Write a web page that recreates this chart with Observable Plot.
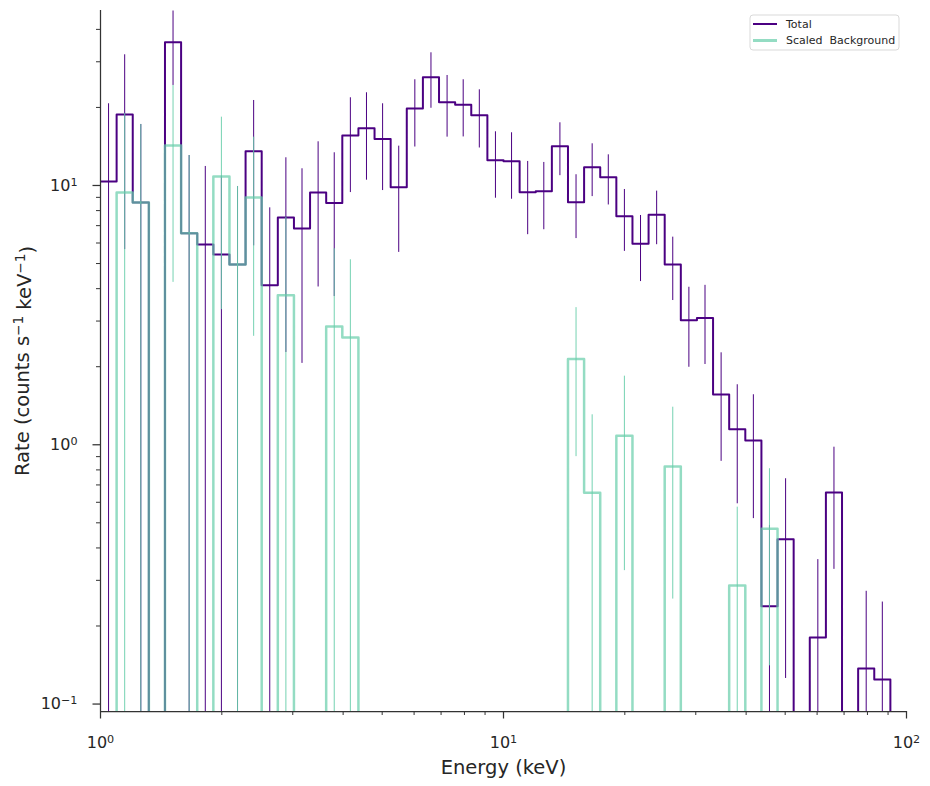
<!DOCTYPE html>
<html><head><meta charset="utf-8">
<script src="https://cdn.jsdelivr.net/npm/d3@7"></script>
<script src="https://cdn.jsdelivr.net/npm/@observablehq/plot@0.6"></script>
<style>
body{margin:0;background:#fff;}
#chart{position:relative;width:930px;height:786px;}
</style>
</head><body><div id="chart"></div>
<script>
// Energy bin edges (keV)
const binEdges = [1.0000,1.0965,1.2023,1.3183,1.4454,1.5849,1.7378,1.9055,2.0893,2.2909,
  2.5119,2.7542,3.0200,3.3113,3.6308,3.9811,4.3652,4.7863,5.2481,5.7544,
  6.3096,6.9183,7.5858,8.3176,9.1201,10.000,10.965,12.023,13.183,14.454,
  15.849,17.378,19.055,20.893,22.909,25.119,27.542,30.200,33.113,36.308,
  39.811,43.652,47.863,52.481,57.544,63.096,69.183,75.858,83.176,91.201,100.00];
// Total rate per bin and its 1-sigma error
const totalRate = [10.36,18.79,8.60,0,35.7,6.55,5.92,5.42,4.96,13.56,
  4.12,7.53,6.83,9.40,8.55,15.59,16.63,15.11,9.85,19.82,
  26.17,20.96,20.48,18.67,12.52,12.41,9.42,9.51,14.18,8.62,
  11.77,10.77,7.61,5.96,7.71,4.96,3.02,3.08,1.563,1.148,
  1.039,0.2385,0.4325,0,0.1806,0.6547,0,0.1372,0.1244,0];
const totalErr = [10.3,13.13,8.59,0,11.39,6.5,5.92,5.45,4.95,7.71,
  4.08,5.26,4.77,5.34,4.82,6.2,6.15,5.55,4.33,5.75,
  6.32,5.6,5.09,4.72,3.59,3.56,2.96,2.76,3.27,2.38,
  2.71,2.36,2.04,1.70,1.80,1.36,1.03,1.04,0.70,0.556,
  0.52,0.25,0.307,0,0.18,0.324,0,0.135,0.123,0];
// Scaled background rate per bin and its error
const bkgRate = [0,9.40,8.60,0,14.27,6.55,0,10.83,4.96,8.99,
  0,3.77,0,0,2.86,2.59,0,0,0,0,
  0,0,0,0,0,0,0,0,0,2.14,
  0.653,0,1.083,0,0,0.825,0,0,0,0.2866,
  0,0.4744,0,0,0,0,0,0,0,0];
const bkgErr = [0,9.56,8.59,0,10.04,6.5,0,7.51,4.95,6.37,
  0,3.78,0,0,2.84,2.58,0,0,0,0,
  0,0,0,0,0,0,0,0,0,1.24,
  0.652,0,0.756,0,0,0.571,0,0,0,0.288,
  0,0.334,0,0,0,0,0,0,0,0];
// Axis ticks and labels
const xTicks = [1,10,100];
const xMinorTicks = [2,3,4,5,6,7,8,9,20,30,40,50,60,70,80,90];
const yTicks = [0.1,1,10];
const yMinorTicks = [0.2,0.3,0.4,0.5,0.6,0.7,0.8,0.9,2,3,4,5,6,7,8,9,20,30,40];
const xLabel = "Energy (keV)";
const yLabel = "Rate (counts s^{\u22121} keV^{\u22121})";
const seriesNames = ["Total","Scaled  Background"];

const PURPLE = "#4b0082", TEAL = "#66cdaa", INK = "#262626";
const Y_MIN = 0.0936, Y_MAX = 47.3, FLOOR = 1e-4;

function steps(vals){
  const pts = [];
  vals.forEach((v,i) => {
    const y = v > 0 ? v : FLOOR;
    pts.push({x: binEdges[i], y});
    pts.push({x: binEdges[i+1], y});
  });
  return pts;
}
function bars(vals, errs){
  return vals.map((v,i) => ({
    x: Math.sqrt(binEdges[i]*binEdges[i+1]),
    y1: Math.max(v - errs[i], FLOOR),
    y2: v + errs[i],
    e: errs[i]
  })).filter(d => d.e > 0);
}
const totalSteps = steps(totalRate), bkgSteps = steps(bkgRate);
const totalBars = bars(totalRate, totalErr), bkgBars = bars(bkgRate, bkgErr);
const sup = d => "10^{" + String(Math.round(Math.log10(d))).replace("-", "\u2212") + "}";

const svg = Plot.plot({
  width: 930, height: 786,
  marginLeft: 100, marginRight: 24, marginTop: 10, marginBottom: 75,
  x: {type: "log", domain: [1, 100], label: null},
  y: {type: "log", domain: [Y_MIN, Y_MAX], label: null},
  style: {fontFamily: "DejaVu Sans", color: INK, background: "white"},
  marks: [
    Plot.ruleX(totalBars, {x: "x", y1: "y1", y2: "y2", stroke: PURPLE, strokeWidth: 1, clip: true}),
    Plot.line(totalSteps, {x: "x", y: "y", stroke: PURPLE, strokeWidth: 2, clip: true, curve: "linear"}),
    Plot.line(bkgSteps, {x: "x", y: "y", stroke: TEAL, strokeOpacity: 0.7, strokeWidth: 2.5, clip: true, curve: "linear"}),
    Plot.ruleX(bkgBars, {x: "x", y1: "y1", y2: "y2", stroke: TEAL, strokeOpacity: 0.9, strokeWidth: 1, clip: true}),
    Plot.ruleX([1], {stroke: "#333", strokeWidth: 1.25}),
    Plot.ruleY([Y_MIN], {stroke: "#333", strokeWidth: 1.25}),
    Plot.axisX(xTicks, {anchor: "bottom", tickSize: 7.5, tickPadding: 17.5, tickFormat: sup, fontSize: 16, label: null, stroke: "#333", strokeWidth: 1.25}),
    Plot.axisX(xMinorTicks, {anchor: "bottom", tickSize: 4, tickFormat: () => "", label: null, stroke: "#333", strokeWidth: 1}),
    Plot.axisY(yTicks, {anchor: "left", tickSize: 7.5, tickPadding: 15.5, tickFormat: sup, fontSize: 16, label: null, stroke: "#333", strokeWidth: 1.25}),
    Plot.axisY(yMinorTicks, {anchor: "left", tickSize: 4, tickFormat: () => "", label: null, stroke: "#333", strokeWidth: 1}),
    Plot.text([xLabel], {text: d => d, frameAnchor: "bottom", dy: 56, fontSize: 19.5, fill: INK, lineAnchor: "middle", textAnchor: "middle"}),
    Plot.text([yLabel], {text: d => d, frameAnchor: "left", dx: -78, rotate: -90, fontSize: 19.5, fill: INK, lineAnchor: "middle", textAnchor: "middle"})
  ]
});

// render ^{...} as superscripts
d3.select(svg).selectAll("text").each(function(){
  const t = this.textContent;
  if (!/\^\{/.test(t)) return;
  const isYTick = this.getAttribute("text-anchor") === "end" && /^10\^/.test(t);
  const sel = d3.select(this);
  sel.text(null);
  const parts = t.split(/\^\{([^}]*)\}/);
  parts.forEach((p, i) => {
    if (p === "") return;
    if (i % 2 === 0) {
      const ts = sel.append("tspan").text(p);
      if (i > 0) ts.attr("dy", "0.42em");
      else if (isYTick) ts.attr("dy", "3.5");
    } else {
      sel.append("tspan").attr("dy", "-0.42em").attr("font-size", "0.7em").text(p);
    }
  });
});

// legend
const lg = d3.select(svg).append("g").attr("font-family", "DejaVu Sans").attr("font-size", 11).attr("fill", INK).attr("text-anchor", "start");
lg.append("rect").attr("x", 750).attr("y", 15).attr("width", 149).attr("height", 35).attr("rx", 3)
  .attr("fill", "white").attr("fill-opacity", 0.8).attr("stroke", "#d9d9d9").attr("stroke-width", 1);
const items = [{name: seriesNames[0], color: PURPLE, op: 1, w: 2}, {name: seriesNames[1], color: TEAL, op: 0.7, w: 3}];
items.forEach((it, i) => {
  const y = 24 + i * 16.5;
  lg.append("line").attr("x1", 753).attr("x2", 777).attr("y1", y).attr("y2", y)
    .attr("stroke", it.color).attr("stroke-opacity", it.op).attr("stroke-width", it.w);
  lg.append("text").attr("x", 786).attr("y", y).attr("dy", "0.35em").attr("text-anchor", "start")
    .style("white-space", "pre").text(it.name);
});

document.getElementById("chart").appendChild(svg);
</script>
</body></html>
